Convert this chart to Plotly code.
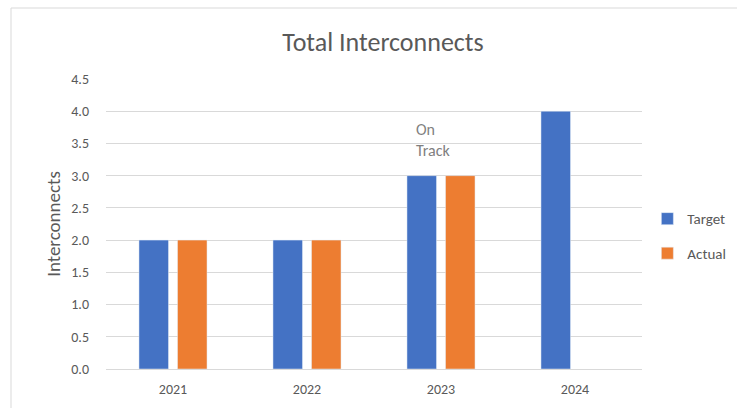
import plotly.graph_objects as go

# Interconnect counts per year
years = ["2021", "2022", "2023", "2024"]
target = [2, 2, 3, 4]
actual = [2, 2, 3, None]

y_ticks = [0, 0.5, 1.0, 1.5, 2.0, 2.5, 3.0, 3.5, 4.0, 4.5]
y_tick_labels = ["0.0", "0.5", "1.0", "1.5", "2.0", "2.5", "3.0", "3.5", "4.0", "4.5"]

FONT = "Calibri, Lato, sans-serif"
TEXT_GREY = "#595959"

fig = go.Figure()
fig.add_trace(go.Bar(x=years, y=target, name="Target", marker_color="#4472C4", legendgroup="target"))
fig.add_trace(go.Bar(x=years, y=actual, name="Actual", marker_color="#ED7D31", legendgroup="actual"))

fig.update_layout(
    width=737,
    height=408,
    margin=dict(l=106, r=95, t=79, b=39, autoexpand=False),
    paper_bgcolor="white",
    plot_bgcolor="white",
    barmode="group",
    bargap=0.425,
    bargroupgap=0.234,
    font=dict(family=FONT, color=TEXT_GREY, size=14),
    title=dict(
        text="Total Interconnects",
        x=(383 / 737),
        xanchor="center",
        y=1 - 42 / 408,
        yanchor="middle",
        font=dict(family=FONT, size=26, color=TEXT_GREY),
    ),
    showlegend=True,
    legend=dict(
        x=1.01,
        y=0.459,
        xanchor="left",
        yanchor="middle",
        font=dict(family=FONT, size=15, color=TEXT_GREY),
        tracegroupgap=12,
        itemwidth=30,
        bgcolor="rgba(0,0,0,0)",
    ),
    xaxis=dict(
        type="category",
        showgrid=False,
        showline=False,
        ticks="",
        ticklabelstandoff=10,
        tickfont=dict(family=FONT, size=14, color=TEXT_GREY),
    ),
    yaxis=dict(
        range=[0, 4.5],
        tickvals=y_ticks,
        ticktext=y_tick_labels,
        showgrid=True,
        gridcolor="#D9D9D9",
        gridwidth=1,
        zeroline=True,
        zerolinecolor="#D9D9D9",
        zerolinewidth=1,
        showline=False,
        ticks="",
        ticklen=0,
        ticklabelstandoff=16,
        tickfont=dict(family=FONT, size=14, color=TEXT_GREY),
        title=dict(text="Interconnects", font=dict(family=FONT, size=19, color=TEXT_GREY), standoff=5),
    ),
)

# Status note above the 2023 bars
fig.add_annotation(
    x=1.80, y=3.56, xref="x", yref="y",
    text="On<br>Track", showarrow=False,
    xanchor="left", yanchor="middle", align="left",
    font=dict(family=FONT, size=16, color="#7F7F7F"),
)

# Chart-area frame
fig.add_shape(
    type="rect", xref="paper", yref="paper",
    x0=(11 - 106) / 536, x1=2.0, y0=-0.5, y1=(369 - 8) / 290,
    line=dict(color="#D9D9D9", width=1), fillcolor="rgba(0,0,0,0)", layer="below",
)

fig.write_html("out.html")
